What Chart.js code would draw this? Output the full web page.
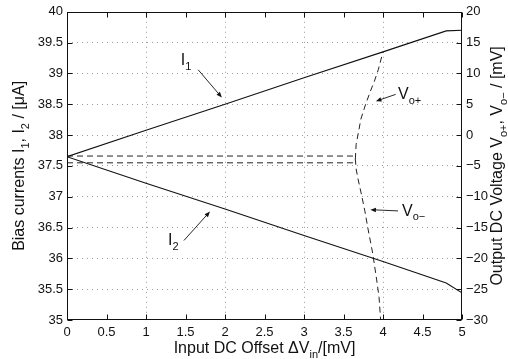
<!DOCTYPE html>
<html>
<head>
<meta charset="utf-8">
<script src="https://cdn.jsdelivr.net/npm/chart.js@4/dist/chart.umd.min.js"></script>
<style>
  html, body { margin: 0; padding: 0; background: #fff; }
  #wrap { width: 508px; height: 359px; }
</style>
</head>
<body>
<div id="wrap"><canvas id="biasChart" width="508" height="359"></canvas></div>
<script>
// --- 1. Data ---
const offsetTicks = [0, 0.5, 1, 1.5, 2, 2.5, 3, 3.5, 4, 4.5, 5];
const currentTicks = [35, 35.5, 36, 36.5, 37, 37.5, 38, 38.5, 39, 39.5, 40];
const voltageTicks = [-30, -25, -20, -15, -10, -5, 0, 5, 10, 15, 20];

// bias currents (left axis, uA)
const i1Offset = [0, 1, 2, 3, 4, 4.8, 5];
const i1Current = [37.65, 38.08, 38.5, 38.93, 39.35, 39.69, 39.7];
const i2Offset = [0, 1, 2, 3, 4, 4.8, 5];
const i2Current = [37.65, 37.22, 36.8, 36.37, 35.95, 35.6, 35.44];

// output DC voltages (right axis, mV)
const voPlusOffset = [0, 3.62, 3.65, 3.66, 3.69, 3.72, 3.78, 3.84, 3.89, 3.94, 4.0];
const voPlusVoltage = [-3.4, -3.4, -3.9, -1.5, 0.5, 2.6, 5.0, 7.1, 8.7, 10.6, 13.5];
const voMinusOffset = [0, 3.62, 3.65, 3.66, 3.68, 3.73, 3.77, 3.81, 3.87, 3.92, 3.95, 3.97];
const voMinusVoltage = [-4.5, -4.5, -3.9, -5.5, -6.9, -9.8, -12.3, -15.2, -19.2, -23.5, -26.3, -30];

// curve labels and arrows, in data coordinates
const curveLabels = [
    { axis: 'y', x: 1.44, y: 39.13, main: 'I', sub: '1' },
    { axis: 'y', x: 1.28, y: 36.21, main: 'I', sub: '2' },
    { axis: 'y2', x: 4.19, y: 5.8, main: 'V', sub: 'o+' },
    { axis: 'y2', x: 4.24, y: -13.06, main: 'V', sub: 'o\u2212' }
];
const curveArrows = [
    { axis: 'y', from: [1.66, 39.06], to: [1.96, 38.61] },
    { axis: 'y', from: [1.48, 36.29], to: [1.81, 36.76] },
    { axis: 'y2', from: [4.16, 6.6], to: [3.91, 5.5] },
    { axis: 'y2', from: [4.19, -12.3], to: [3.84, -12.1] }
];

// --- 2. Helpers ---
const FONT = '"Liberation Sans", Arial, Helvetica, sans-serif';
const INK = '#111';

const toPoints = (xs, ys) => xs.map((x, i) => ({ x: x, y: ys[i] }));

function richWidth(ctx, parts, size, subSize) {
    let w = 0;
    parts.forEach(([t, sub]) => {
        ctx.font = `${sub ? subSize : size}px ${FONT}`;
        w += ctx.measureText(t).width;
    });
    return w;
}

function drawRich(ctx, parts, x, y, size, subSize) {
    let cx = x;
    parts.forEach(([t, sub]) => {
        ctx.font = `${sub ? subSize : size}px ${FONT}`;
        ctx.fillText(t, cx, sub ? y + size * 0.3 : y);
        cx += ctx.measureText(t).width;
    });
}

function drawArrow(ctx, x1, y1, x2, y2) {
    const ang = Math.atan2(y2 - y1, x2 - x1);
    const head = 6, spread = 0.38;
    ctx.beginPath();
    ctx.moveTo(x1, y1);
    ctx.lineTo(x2 - Math.cos(ang) * head * 0.8, y2 - Math.sin(ang) * head * 0.8);
    ctx.stroke();
    ctx.beginPath();
    ctx.moveTo(x2, y2);
    ctx.lineTo(x2 - head * Math.cos(ang - spread), y2 - head * Math.sin(ang - spread));
    ctx.lineTo(x2 - head * Math.cos(ang + spread), y2 - head * Math.sin(ang + spread));
    ctx.closePath();
    ctx.fill();
}

// box, inward ticks, axis titles and curve labels (MATLAB look)
const figureDecor = {
    id: 'figureDecor',
    afterDraw(chart) {
        const { ctx, chartArea: a, scales } = chart;
        const L = Math.round(a.left) + 0.5, R = Math.round(a.right) - 0.5;
        const T = Math.round(a.top) + 0.5, B = Math.round(a.bottom) - 0.5;
        const tick = 5;

        ctx.save();
        ctx.strokeStyle = INK;
        ctx.fillStyle = INK;
        ctx.lineWidth = 1;
        ctx.strokeRect(L, T, R - L, B - T);

        ctx.beginPath();
        offsetTicks.forEach(v => {
            const px = Math.round(scales.x.getPixelForValue(v)) + 0.5;
            ctx.moveTo(px, B); ctx.lineTo(px, B - tick);
            ctx.moveTo(px, T); ctx.lineTo(px, T + tick);
        });
        currentTicks.forEach(v => {
            const py = Math.round(scales.y.getPixelForValue(v)) + 0.5;
            ctx.moveTo(L, py); ctx.lineTo(L + tick, py);
        });
        voltageTicks.forEach(v => {
            const py = Math.round(scales.y2.getPixelForValue(v)) + 0.5;
            ctx.moveTo(R, py); ctx.lineTo(R - tick, py);
        });
        ctx.stroke();

        // axis titles
        const midX = (a.left + a.right) / 2, midY = (a.top + a.bottom) / 2;
        ctx.textBaseline = 'alphabetic';
        ctx.textAlign = 'left';

        const xTitle = [['Input DC Offset \u0394V', 0], ['in', 1], ['/[mV]', 0]];
        drawRich(ctx, xTitle, midX - richWidth(ctx, xTitle, 16, 11) / 2, 353, 16, 11);

        const yTitle = [['Bias currents I', 0], ['1', 1], [', I', 0], ['2', 1], [' / [\u03bcA]', 0]];
        ctx.save();
        ctx.translate(24, midY);
        ctx.rotate(-Math.PI / 2);
        drawRich(ctx, yTitle, -richWidth(ctx, yTitle, 16, 11) / 2, 0, 16, 11);
        ctx.restore();

        const y2Title = [['Output DC Voltage V', 0], ['o+', 1], [', V', 0], ['o\u2212', 1], [' / [mV]', 0]];
        ctx.save();
        ctx.translate(502, midY);
        ctx.rotate(-Math.PI / 2);
        drawRich(ctx, y2Title, -richWidth(ctx, y2Title, 16, 11) / 2, 0, 16, 11);
        ctx.restore();

        // curve labels
        curveLabels.forEach(lab => {
            const px = scales.x.getPixelForValue(lab.x);
            const py = scales[lab.axis].getPixelForValue(lab.y);
            drawRich(ctx, [[lab.main, 0], [lab.sub, 1]], px, py, 16, 11);
        });

        ctx.lineWidth = 0.9;
        curveArrows.forEach(ar => {
            const yS = scales[ar.axis];
            drawArrow(ctx,
                scales.x.getPixelForValue(ar.from[0]), yS.getPixelForValue(ar.from[1]),
                scales.x.getPixelForValue(ar.to[0]), yS.getPixelForValue(ar.to[1]));
        });
        ctx.restore();
    }
};

// --- 3. Chart ---
const gridDots = { color: '#9a9a9a', dash: [1, 4] };
const plainLabel = (v) => v < 0 ? '\u2212' + Math.abs(v) : String(v);

new Chart(document.getElementById('biasChart').getContext('2d'), {
    type: 'line',
    data: {
        datasets: [
            { label: 'I1', data: toPoints(i1Offset, i1Current), yAxisID: 'y',
              borderColor: INK, borderWidth: 1.1, pointRadius: 0, fill: false },
            { label: 'I2', data: toPoints(i2Offset, i2Current), yAxisID: 'y',
              borderColor: INK, borderWidth: 1.1, pointRadius: 0, fill: false },
            { label: 'Vo+', data: toPoints(voPlusOffset, voPlusVoltage), yAxisID: 'y2',
              borderColor: '#222', borderWidth: 1, borderDash: [6, 4], pointRadius: 0, fill: false },
            { label: 'Vo-', data: toPoints(voMinusOffset, voMinusVoltage), yAxisID: 'y2',
              borderColor: '#222', borderWidth: 1, borderDash: [6, 4], pointRadius: 0, fill: false }
        ]
    },
    options: {
        responsive: false,
        animation: false,
        devicePixelRatio: 1,
        layout: { padding: { top: 10, left: 0, right: 0, bottom: 0 } },
        plugins: { legend: { display: false }, tooltip: { enabled: false } },
        scales: {
            x: {
                type: 'linear', min: 0, max: 5,
                afterBuildTicks: (s) => { s.ticks = offsetTicks.map(v => ({ value: v })); },
                afterFit: (s) => { s.height = 39; },
                grid: {
                    drawTicks: false,
                    color: (c) => (c.tick && Number.isInteger(c.tick.value) && c.tick.value > 0 && c.tick.value < 5) ? gridDots.color : 'rgba(0,0,0,0)'
                },
                border: { display: false, dash: gridDots.dash },
                ticks: { color: INK, font: { family: FONT, size: 13 }, padding: 5, maxRotation: 0, autoSkip: false, callback: plainLabel }
            },
            y: {
                position: 'left', min: 35, max: 40,
                afterBuildTicks: (s) => { s.ticks = currentTicks.map(v => ({ value: v })); },
                afterFit: (s) => { s.width = 67; },
                grid: {
                    drawTicks: false,
                    color: (c) => (c.tick && c.tick.value > 35 && c.tick.value < 40) ? gridDots.color : 'rgba(0,0,0,0)'
                },
                border: { display: false, dash: gridDots.dash },
                ticks: { color: INK, font: { family: FONT, size: 13 }, padding: 4, autoSkip: false, callback: plainLabel }
            },
            y2: {
                position: 'right', min: -30, max: 20,
                afterBuildTicks: (s) => { s.ticks = voltageTicks.map(v => ({ value: v })); },
                afterFit: (s) => { s.width = 46; },
                grid: { display: false, drawTicks: false },
                border: { display: false },
                ticks: { color: INK, font: { family: FONT, size: 13 }, padding: 4, autoSkip: false, callback: plainLabel }
            }
        }
    },
    plugins: [figureDecor]
});
</script>
</body>
</html>
